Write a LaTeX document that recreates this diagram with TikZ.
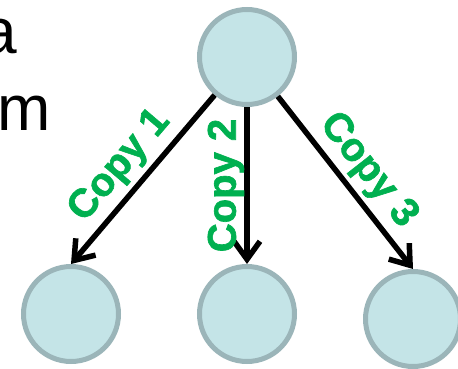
\documentclass[tikz,border=0pt]{standalone}
\usepackage{fontspec}
\setmainfont{Liberation Sans}
\newfontfamily\heavyfont{Liberation Sans Bold}[FakeBold=1.6]
\usetikzlibrary{arrows.meta}
\definecolor{nodefill}{RGB}{196,228,231}
\definecolor{nodeline}{RGB}{155,181,185}
\definecolor{copygreen}{RGB}{0,176,80}
\tikzset{
  copynode/.style={circle, fill=nodefill, draw=nodeline, line width=5pt,
    minimum size=95pt, inner sep=0pt},
  copyarrow/.style={line width=5.5pt,
    -{Straight Barb[length=18pt,width=26pt]}},
  copylabel/.style={text=copygreen, inner sep=0pt,
    font=\heavyfont\fontsize{40}{40}\selectfont},
  slidetext/.style={inner sep=0pt, font=\fontsize{64}{64}\selectfont}
}
\begin{document}
\begin{tikzpicture}[x=1pt, y=1pt]
  \useasboundingbox (0,0) rectangle (458,368);
  % fragments of surrounding slide text
  \node[slidetext, anchor=base east] (fraga) at (17.5,315) {a};
  \node[slidetext, anchor=base west] (fragm) at (-3,238) {m};
  % source and copies
  \node[copynode] (top) at (247,311) {};
  \node[copynode] (left) at (71,54) {};
  \node[copynode] (mid) at (247,54) {};
  \node[copynode] (right) at (413,49) {};
  % copy arrows with their labels
  \draw[copyarrow] (top) -- node[copylabel, pos=0.52, sloped, anchor=south, outer sep=8pt] {Copy 1} (left.north);
  \draw[copyarrow] (top) -- node[copylabel, pos=0.5, rotate=90, anchor=south, outer sep=3pt] {Copy 2} (mid.north);
  \draw[copyarrow] (top) -- node[copylabel, pos=0.52, sloped, anchor=south, outer sep=7pt] {Copy 3} (right.north);
\end{tikzpicture}
\end{document}
